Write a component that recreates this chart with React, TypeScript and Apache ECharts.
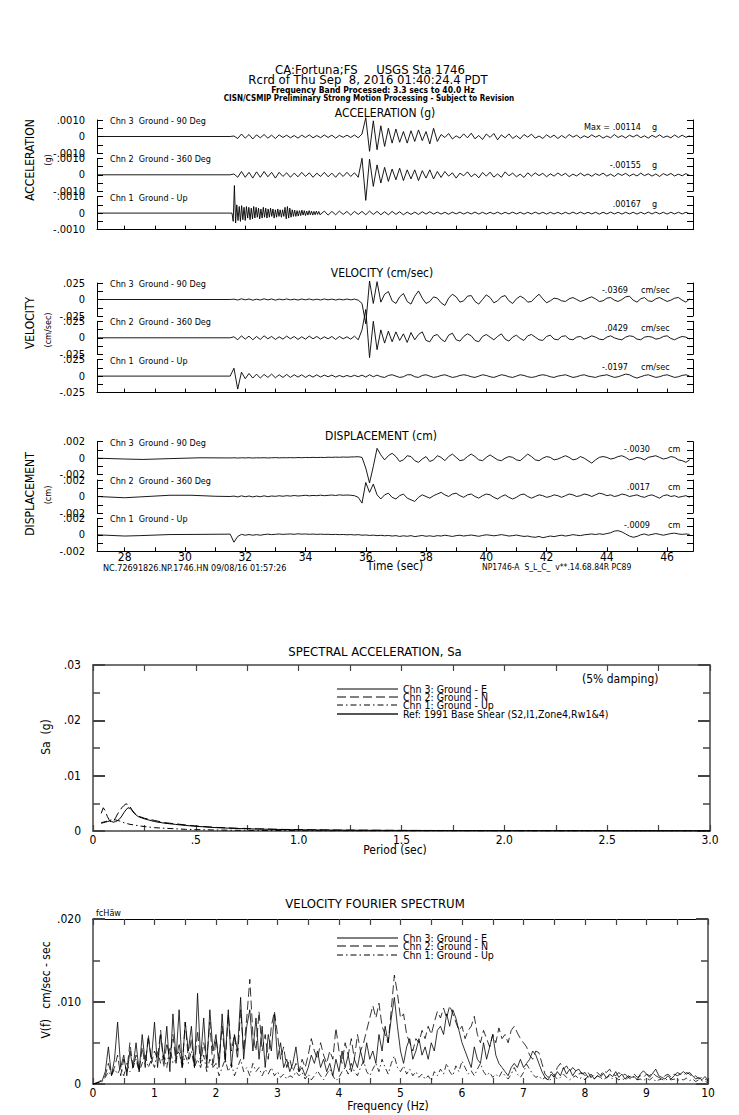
import React, { useEffect, useRef } from 'react';
import * as echarts from 'echarts';

const FONT = "'DejaVu Sans Condensed', 'Liberation Sans Narrow', 'DejaVu Sans', sans-serif";

// ---------- time axis of the record ----------
const TIME_MIN = 27.08;
const TIME_MAX = 46.86;
const timeTicks = [28, 29, 30, 31, 32, 33, 34, 35, 36, 37, 38, 39, 40, 41, 42, 43, 44, 45, 46];
const timeLabels = [28, 30, 32, 34, 36, 38, 40, 42, 44, 46];

// ---------- ACCELERATION (units of 0.0001 g), samples every 0.125 s from 31.5 s ----------
const accChn3Pre = [[27.08, 0]];
const accChn3 = [
  0, 0.3, -1.2, 1.5, -1.0, 1.2, -1.5, 1.0,
  -0.8, 1.2, -1.0, 0.8, -1.2, 1.0, -0.6, 0.8,
  -0.8, 0.6, -1.0, 0.8, -0.6, 1.0, -0.8, 0.6,
  -0.7, 0.9, -0.6, 0.8, -1.0, 0.7, -0.5, 0.8,
  -0.6, 0.9, -0.8, 1.5, 11.4, -9, 9.5, -8,
  6.5, -6, 5, -4, 4.5, -3.5, 3, -4,
  3.5, -3, 4, -2.5, 3, -4.5, 5, -3,
  1.2, -0.6, 1.8, -1.5, 0.4, -1.0, 1.6, -0.8,
  2.0, -1.4, 0.6, -1.8, 1.5, -0.5, 1.8, -2.0,
  1.0, -0.8, 1.6, -1.2, 0.5, -1.4, 1.2, -0.4,
  1.4, -1.0, 0.3, -1.2, 1.0, -0.6, 0.8, -1.2,
  0.6, -0.9, 1.2, -0.4, 0.8, -1.0, 0.4, -0.7,
  1.0, -0.4, 0.7, -1.0, 0.3, -0.8, 1.2, -0.6,
  0.5, -0.9, 0.8, -0.3, 1.0, -0.7, 0.4, -1.0,
  0.7, -0.5, 1.0, -0.6, 0.3, -0.8, 0.9, -0.6,
  0.8, -0.5, 0.4,
];
const accChn2Pre = [[27.08, 0]];
const accChn2 = [
  0, 0.5, -1.5, 2, -1.5, 1.5, -2, 1.8,
  -1.5, 2, -1.2, 1.5, -2, 1.5, -1, 1.2,
  -1.5, 1, -1.2, 1.5, -1, 1.2, -1.5, 1,
  -1, 1.5, -1.2, 1, -1.5, 1.2, -1, 1.5,
  -1, 1.2, -1.5, 10, -15.5, 9.5, -7, 6,
  -5, 4.5, -4, 3.5, -3, 4, -3.5, 3,
  -2.5, 3, -3.5, 2.5, -2, 3, -2.5, 2,
  -1.6, 2.0, -0.8, 1.2, -2.0, 1.0, -0.6, 1.8,
  -1.2, 0.6, -1.8, 1.4, -0.8, 1.6, -1.4, 0.5,
  -1.5, 1.8, -0.6, 1.0, -1.2, 0.4, -1.6, 1.2,
  -0.8, 1.2, -0.5, 0.9, -1.2, 0.6, -0.8, 1.1,
  -0.5, 0.9, -1.1, 0.4, -0.7, 1.0, -0.6, 0.5,
  -0.9, 0.7, -0.4, 1.0, -0.8, 0.4, -1.0, 0.8,
  -0.4, 0.9, -0.8, 0.5, -0.7, 1.0, -0.5, 0.6,
  -0.8, 0.5, -1.0, 0.7, -0.4, 0.8, -0.7, 0.4,
  -0.6, 0.7, -0.4,
];
const accChn1Pre = [[27.08, 0]];
// dense P-wave burst, samples every 0.04 s from 31.56 s
const accChn1Burst = [
  0, -5, 16.7, -6, 5, -4.5, 4, -5, 4.5, -4,
  3.5, -4.5, 4, -3, 3.5, -4, 3, -3.5, 4, -3,
  3.5, -2.5, 3, -3.5, 2.5, -3, 3.5, -2.5, 3, -3,
  2.5, -2.5, 3, -2, 2.5, -3, 2, -2.5, 2.5, -2,
  2, -2.5, 2, -2, 3.5, -3.5, 4, -3, 3, -2.5,
  2, -2, 1.8, -2, 1.5, -1.8, 1.5, -1.5, 1.8, -1.2,
  1.5, -1.5, 1.2, -1.2, 1.5, -1, 1.2, -1.2, 1, -1,
  1.2, -0.8, 1, -1,
];
// samples every 0.125 s from 34.625 s
const accChn1 = [
  1.2, -1.2, 1.0, -1.0, 1.2, -0.8, 1.0,
  -1.2, 1, -0.8, 1, -1, 1.2, -0.8, 1,
  -1, 0.8, -1, 1, -0.8, 0.8, -1, 0.6,
  -0.8, 0.6, -0.8, 0.8, -0.6, 0.8, -0.6, 0.6,
  -0.6, 0.5, -0.7, 0.6, -0.5, 0.6, -0.6, 0.5,
  -0.5, 0.6, -0.6, 0.5, -0.6, 0.5, -0.5, 0.6,
  -0.6, 0.5, -0.5, 0.6, -0.5, 0.5, -0.6, 0.5,
  -0.5, 0.6, -0.5, 0.5, -0.6, 0.5, -0.5, 0.5,
  -0.6, 0.5, -0.5, 0.6, -0.5, 0.6, -0.5, 0.5,
  -0.5, 0.5, -0.6, 0.5, -0.5, 0.6, -0.5, 0.5,
  -0.6, 0.5, -0.5, 0.5, -0.6, 0.5, -0.5, 0.6,
  -0.5, 0.6, -0.5, 0.5, -0.6, 0.5, -0.5, 0.5,
  -0.5, 0.5, -0.4,
];

// ---------- VELOCITY (units of 0.001 cm/sec) ----------
const velChn3Pre = [[27.08, 0]];
const velChn3 = [
  0, 0.5, -0.8, 1, -0.5, 0.8, -1, 0.5,
  -0.8, 1, -0.6, 0.8, -1, 0.6, -0.5, 0.8,
  -0.6, 0.5, -0.8, 0.7, -0.5, 0.8, -0.7, 0.5,
  -0.7, 0.8, -0.5, 0.6, -0.8, 0.5, -0.6, 0.7,
  -0.5, 0.6, -1, -6, -36.9, 28, -6, 27,
  -4, 8, 12, -2, -6, 4, 9, -3,
  -7, 5, 13, 2, -6, -3, 4, 2,
  -5, -9, 2, 8, 4, -4, -2, 5,
  6, -3, -7, 0, 7, 3, -5, -2,
  4, 6, -2, -6, 1, 5, 2, -4,
  -3, 3, 8, 1, -5, -2, 2, 1,
  -2, -3, 1, 3, 0, -3, -1, 2,
  4, 1, -3, -2, 2, 3, -1, -3,
  0, 4, 5, -1, -4, 1, 3, -2,
  -3, 1, 3, 0, -3, -1, 2, 3,
  -1, -4, 1,
];
const velChn2Pre = [[27.08, 0]];
const velChn2 = [
  0, 1.5, -3, 3, -2, 2.5, -3, 2,
  -2.5, 3, -1.5, 2, -2.5, 1.5, -2, 2.5,
  -1.5, 2, -2.5, 1.5, -2, 2.5, -1.5, 2,
  -2, 1.5, -1.5, 2, -2.5, 2, -1.5, 1.5,
  -2, 2.5, -3, 12, 42.9, -30, 25, -18,
  12, -8, 10, -6, 9, -4, 6, -7,
  8, -3, 5, 9, -4, -6, 3, 5,
  -2, -6, 4, 7, -3, -5, 2, 6,
  3, -4, -6, 2, 5, 1, -3, 2,
  6, -2, -5, 1, 4, -1, -4, 3,
  5, 1, -3, -4, 2, 4, -2, -3,
  2, 3, -2, -3, 1, 2, -2, 0,
  3, 1, -2, -3, 1, 3, 0, -2,
  -3, 1, 3, 2, -2, -3, 1, 2,
  1, -2, -1, 2, 3, -1, -3, 0,
  2, 1, -2,
];
const velChn1Pre = [[27.08, 0]];
const velChn1 = [
  0, 12, -19.7, 6, -4, 4, -3, 3,
  -3, 2.5, -2, 3, -2.5, 2, -2, 2.5,
  -2, 2, -1.5, 2, -2, 1.5, -1.5, 2,
  -1.5, 1.5, -1, 1.5, -1.5, 1, -1.2, 1,
  -1, 1.2, -1, 1.5, -1.5, 2, -1, 1.5,
  -1, -2, 1, 2, 0, -2, -1, 2,
  2, -1, -2, 1, 2, 0, -2, -1,
  1, 2, 0, -2, -1, 1, 2, 1,
  -1, -2, 0, 2, 1, -1, -2, 0,
  2, 1, -1, -2, 0, 2, 1, -1,
  -2, -1, 1, 2, 1, -1, -2, 0,
  1, 2, 0, -2, -1, 1, 2, 0,
  -1, -2, 0, 1, 2, 0, -2, -1,
  1, 3, 2, -1, -3, -1, 1, 2,
  0, -2, -1, 1, 2, 0, -2, -1,
  1, 2, 0,
];

// ---------- DISPLACEMENT (units of 0.0001 cm) ----------
const dispChn3Pre = [[27.08, 0], [28, -1], [28.6, -1.5], [29.5, -0.5], [30.5, 0.5]];
const dispChn3 = [
  0.3, 0.5, 0.2, 0.5, 0.3, 0.6, 0.2, 0.5,
  0.4, 0.6, 0.3, 0.5, 0.7, 0.4, 0.6, 0.5,
  0.7, 0.5, 0.8, 0.6, 0.9, 0.7, 1.0, 0.8,
  1.0, 0.8, 1.2, 1.0, 1.3, 1.1, 1.4, 1.2,
  1.5, 1.6, 1.8, 1.0, -12, -30, -10, 12,
  4, -2, 3, 6, 2, -4, -2, 3,
  2, -3, -5, -1, 2, -4, -2, 3,
  1, -3, 2, 5, 1, -3, -2, 2,
  5, 2, -2, -3, 1, 4, 1, -2,
  -3, 0, 2, 1, -2, -3, 1, 5,
  2, -2, -3, 0, 2, 1, -2, -1,
  1, 3, 1, -2, -1, 2, 0, -3,
  -6, -2, 1, 2, 1, -1, 0, 2,
  3, 1, -2, -1, 1, 0, -2, 1,
  2, 3, 1, -1, 0, 2, 1, -2,
  -3, -5, -2,
];
const dispChn2Pre = [[27.08, 0], [28, -1.5], [28.5, -0.5], [29.5, 1.5], [30.2, 1.5], [31, 0.3]];
const dispChn2 = [
  0, 0.5, -0.5, 0.8, -0.3, 0.6, -0.5, 0.5,
  -0.3, 0.8, -0.2, 0.6, 0.2, 0.9, 0.3, 1.0,
  0.5, 1.2, 0.6, 1.0, 1.5, 0.8, 1.3, 1.0,
  1.6, 1.0, 1.4, 1.8, 1.2, 2.0, 1.5, 1.8,
  1.5, 1.0, -1, -8, 17, 5, 15, 2,
  -3, 2, 4, -1, -3, 1, 3, -2,
  -4, -6, -1, 2, 0, -2, 1, 3,
  5, 2, 0, 3, 4, 1, -1, 2,
  3, 0, -2, 1, 3, 2, -1, -3,
  0, 2, -1, -3, -1, 2, 3, 0,
  -2, 0, 2, 1, -1, 0, 2, 1,
  -1, 1, 3, 2, 0, 1, 3, 2,
  0, 2, 4, 3, 1, 2, 0, 1,
  3, 2, 0, 1, 2, 0, -1, 1,
  2, 0, -2, 1, 2, 0, 1, -1,
  0, 1, -1,
];
const dispChn1Pre = [[27.08, 0], [28, -1.5], [28.5, -1], [29.5, 0.3], [30.5, 0.5]];
const dispChn1 = [
  0.8, -9, -2, 0.5, -0.5, 0.3, -0.5, 0.2,
  -0.5, 0.3, 0.8, 0.2, 0.6, 1.0, 0.5, 0.8,
  1.0, 0.6, 1.2, 0.8, 1.0, 0.6, 0.9, 0.5,
  0.8, 0.5, 0.6, 0.3, 0.5, 0.2, 0.4, 0.0,
  0.3, -0.2, 0.2, -0.5, -0.2, -0.8, -0.4, -1.0,
  -0.6, -1.2, -0.8, -1.5, -1.0, -2.0, -1.2, -1.8,
  -1.0, -2.2, -1.5, -0.8, -1.8, -1.2, -2.0, -1.0,
  -1.5, -0.5, -1.2, -2.0, -1.0, -0.5, -1.5, -0.8,
  -0.3, -1.0, -1.8, -0.8, 0.0, -0.5, -1.2, -0.6,
  0.2, -0.6, -1.5, -1.0, -0.3, -1.2, -2.0, -1.5,
  -2.5, -3.0, -2.0, -3.5, -2.5, -1.5, -2.2, -1.2,
  -0.5, -1.5, -0.8, 0.2, -0.5, -1.0, 0.0, 0.5,
  1.0, 0.3, 1.2, 0.5, 1.5, 2.5, 4.5, 5.0,
  3.5, 1.0, -1.5, -3.0, -2.0, 0.0, 1.0, -0.5,
  0.5, 1.5, 0.5, -0.5, 0.5, 1.5, 2.0, 1.0,
  0.5, 1.0, 0.5,
];

// ---------- SPECTRAL ACCELERATION (Sa in units of 0.001 g) ----------
const saPeriod = [0.04, 0.05, 0.06, 0.07, 0.08, 0.09, 0.10, 0.11, 0.12, 0.13, 0.14, 0.15, 0.16, 0.17, 0.18, 0.19, 0.20, 0.22, 0.25, 0.30, 0.35, 0.40, 0.45, 0.50, 0.60, 0.70, 0.80, 0.90, 1.0, 1.2, 1.5, 2.0, 2.5, 3.0];
const saChn3 = [1.4, 1.5, 1.6, 1.7, 1.8, 1.7, 1.6, 1.7, 1.9, 2.2, 2.7, 3.3, 3.8, 4.2, 4.1, 3.7, 3.2, 2.6, 2.2, 1.7, 1.4, 1.2, 1.0, 0.85, 0.6, 0.45, 0.35, 0.28, 0.22, 0.15, 0.1, 0.06, 0.04, 0.03];
const saChn2 = [3.2, 4.2, 3.6, 2.6, 1.9, 1.6, 1.8, 2.4, 3.1, 3.7, 4.2, 4.6, 4.9, 4.8, 4.4, 3.8, 3.3, 2.7, 2.3, 1.9, 1.5, 1.3, 1.1, 0.9, 0.65, 0.5, 0.4, 0.3, 0.25, 0.17, 0.11, 0.07, 0.05, 0.03];
const saChn1 = [1.5, 1.6, 1.7, 1.8, 1.9, 2.0, 2.0, 2.0, 1.9, 1.8, 1.7, 1.5, 1.4, 1.3, 1.2, 1.15, 1.1, 0.95, 0.8, 0.6, 0.5, 0.4, 0.3, 0.25, 0.18, 0.13, 0.1, 0.08, 0.06, 0.04, 0.03, 0.02, 0.015, 0.01];
const saTicksY = [0, 10, 20, 30];
const saTickLabelsY = ['0', '.01', '.02', '.03'];

// ---------- VELOCITY FOURIER SPECTRUM (units of 0.001 cm/sec-sec), every 0.05 Hz from 0 Hz ----------
const FREQ_STEP = 0.05;
const vfsChn3 = [
  0, 0.1, 0.2, 0.4, 1.5, 4.5, 1.0, 3, 7.5, 2, 3.5, 1, 4, 2, 5, 1.5, 6, 2.5, 5.5, 3,
  7.5, 2, 6, 3, 7, 1.5, 8.5, 3, 9, 2, 7.5, 4, 7, 2, 11, 3, 8, 2, 9, 4,
  6, 2, 8.5, 3, 9, 2, 6, 4, 10.5, 3, 7, 9, 4, 8, 3, 7, 2, 6, 4, 8.5,
  3, 5, 2, 3, 1.5, 2.5, 4.5, 1.5, 2, 1, 2, 3.5, 2.5, 4, 2, 3, 1.5, 2.5, 1, 3,
  1.5, 4, 2, 3.5, 1.5, 3, 2, 4, 2.5, 5, 3, 4, 2.5, 6, 4, 7, 5, 8, 10.5, 7,
  4, 2.5, 4.5, 5.5, 3, 4, 5.5, 3.5, 4.5, 3, 5, 4, 6.5, 7, 6, 8.5, 7, 9, 8, 6.5,
  5, 4, 3, 2, 4.5, 3, 2.5, 5, 3, 4.5, 6, 3.5, 2.5, 2, 1.5, 1, 2, 2.5, 2, 3,
  2, 2.5, 3, 4, 3.5, 2.5, 1.5, 0.8, 0.5, 1.2, 0.8, 1.5, 1, 2, 1.2, 1.8, 1, 1.6, 1.8, 1.2,
  1.4, 0.8, 1.2, 0.6, 1, 0.8, 1.3, 0.7, 1.2, 0.9, 1.5, 0.8, 1.2, 0.6, 1, 0.8, 0.9, 0.5, 1.2, 1.6,
  1.2, 0.8, 1.3, 1.8, 1, 0.8, 0.6, 1, 0.6, 1, 1.4, 1.2, 1.5, 1.2, 1.4, 1, 0.6, 0.8, 0.5, 0.9,
  0.5,
];
const vfsChn2 = [
  0, 0.1, 0.3, 0.5, 1, 2.5, 1.2, 2, 3.5, 1, 3, 1.5, 5, 2, 3.5, 1.5, 4.5, 2, 6, 2.5,
  4, 3, 6.5, 2, 5, 3, 6, 2.5, 5, 2, 7.5, 3, 5.5, 2, 6.5, 2.5, 5, 3, 7.5, 2,
  5.5, 3, 7, 2.5, 8.5, 4, 6, 3, 9, 4, 8, 12.7, 6, 4, 8.8, 4, 6, 3, 7, 8.8,
  6, 3, 4.5, 2, 3, 1.5, 2.5, 1.5, 3, 2, 3.5, 5.5, 4, 3, 5, 3.5, 2.5, 4, 3, 6.8,
  4, 2.5, 5, 3.5, 5.5, 3, 6, 4, 5, 6.5, 8, 9.5, 8, 9.8, 7, 6, 5, 9, 13.2, 11,
  8, 8.5, 6, 5, 4, 5.5, 5, 6.5, 5.5, 7, 6, 7.5, 8.8, 8, 9.2, 8, 9.5, 8.5, 7.5, 6.5,
  7, 5.5, 6.5, 7, 8.2, 6, 5, 6.5, 5.5, 4.5, 6, 5, 6.8, 5.5, 6, 5, 6.5, 7, 6.2, 5.5,
  5, 4.5, 3.5, 3, 4, 3.8, 2.5, 1.2, 0.8, 1.5, 1, 2, 2.5, 1.8, 2.2, 1.5, 2, 1.6, 1.2, 1.4,
  1, 1.4, 0.8, 1.2, 1.4, 1, 1.6, 1.4, 1.8, 1.2, 1, 1.4, 1, 1.2, 0.8, 1, 1.2, 0.8, 1, 0.8,
  1.2, 1, 1.4, 1, 0.8, 0.6, 1, 1.2, 0.8, 1.2, 1, 1.2, 1, 1.4, 1.2, 0.8, 1, 0.6, 0.8, 0.6,
  0.4,
];
const vfsChn1 = [
  0, 0.1, 0.2, 0.3, 0.8, 1.5, 1, 1.8, 1.2, 2, 1, 2.5, 1.5, 2, 3, 1.5, 2.5, 3.5, 2, 3,
  2, 4, 2.5, 3.5, 2, 4.5, 2.5, 3, 4, 2, 3.5, 2.5, 4, 2, 3, 2, 3.5, 1.5, 3, 2,
  2.5, 1, 2, 3, 1.5, 2.5, 1, 2, 3, 1.5, 2, 1, 2.5, 1.5, 2, 1, 1.8, 1.2, 2, 1,
  1.5, 0.8, 1.2, 0.6, 1, 0.8, 1.5, 1, 1.4, 0.6, 1.2, 0.5, 1, 1.6, 1, 0.5, 1.2, 1.8, 1, 0.4,
  0.8, 1.5, 2, 1.2, 2.5, 1.5, 1, 2, 2.8, 1.5, 1, 1.8, 2.5, 1.5, 3, 2, 1.2, 2.5, 3.4, 2,
  1.5, 2.2, 1.2, 1.8, 1, 1.5, 0.8, 1.2, 0.6, 1, 0.4, 1.5, 1, 1.8, 1.2, 2.5, 1.5, 1, 2.2, 1.5,
  2.8, 2, 1.2, 1.6, 1, 1.8, 2.5, 1.5, 1, 1.4, 0.8, 1.2, 0.8, 1.5, 1, 0.6, 1.2, 2, 1.2, 0.8,
  1.4, 2.4, 1.8, 1.2, 0.8, 1, 0.5, 0.8, 0.4, 0.6, 1, 0.6, 0.8, 1.2, 0.8, 0.5, 0.8, 1, 0.6, 0.8,
  0.5, 1, 0.8, 0.6, 1, 0.8, 0.5, 0.8, 1, 0.6, 0.8, 0.5, 0.7, 0.4, 0.8, 0.6, 0.9, 0.5, 0.6, 0.4,
  0.7, 0.5, 0.8, 0.3, 0.5, 0.6, 0.4, 0.7, 0.5, 0.6, 0.4, 0.6, 0.5, 0.7, 0.4, 0.6, 0.3, 0.5, 0.4, 0.3,
  0.2,
];
const vfsTickLabelsY = ['0', '.010', '.020'];

// ---------- panel descriptions ----------
const groupTops = [120, 283, 441.7];
const PANEL_STEP = 38.3;
const PANEL_H = 33;
const groupRange = [10, 25, 20];
const groupTickLabels = [
  ['-.0010', '0', '.0010'],
  ['-.025', '0', '.025'],
  ['-.002', '0', '.002'],
];
const groupTitles = ['ACCELERATION (g)', 'VELOCITY (cm/sec)', 'DISPLACEMENT (cm)'];
const groupNames = ['ACCELERATION', 'VELOCITY', 'DISPLACEMENT'];
const groupUnits = ['(g)', '(cm/sec)', '(cm)'];
const chanLabels = ['Chn 3  Ground - 90 Deg', 'Chn 2  Ground - 360 Deg', 'Chn 1  Ground - Up'];
const peakValues = [
  ['.00114', '-.00155', '.00167'],
  ['-.0369', '.0429', '-.0197'],
  ['-.0030', '.0017', '-.0009'],
];
const peakUnits = ['g', 'cm/sec', 'cm'];

// each trace: explicit leading points, then sampled segments [start time, step, values]
const traces: any[][] = [
  [
    { pre: accChn3Pre, segs: [[31.5, 0.125, accChn3]] },
    { pre: accChn2Pre, segs: [[31.5, 0.125, accChn2]] },
    { pre: accChn1Pre, segs: [[31.56, 0.04, accChn1Burst], [34.625, 0.125, accChn1]] },
  ],
  [
    { pre: velChn3Pre, segs: [[31.5, 0.125, velChn3]] },
    { pre: velChn2Pre, segs: [[31.5, 0.125, velChn2]] },
    { pre: velChn1Pre, segs: [[31.5, 0.125, velChn1]] },
  ],
  [
    { pre: dispChn3Pre, segs: [[31.5, 0.125, dispChn3]] },
    { pre: dispChn2Pre, segs: [[31.5, 0.125, dispChn2]] },
    { pre: dispChn1Pre, segs: [[31.5, 0.125, dispChn1]] },
  ],
];

// layout of the free texts
const nameCenters = [160, 323, 494];
const unitCenters = [160, 330, 495];
const valueRight = [641, 628, 650];
const unitLeft = [652, 641, 668];

const nb = (s: string) => s.replace(/ /g, '\u00a0');

function txt(x: number, y: number, text: string, size: number, align = 'left', extra: any = {}) {
  return {
    type: 'text',
    x,
    y,
    rotation: extra.rotation || 0,
    silent: true,
    style: {
      text: nb(text),
      fill: '#000',
      fontSize: size,
      fontFamily: FONT,
      fontWeight: extra.bold ? 'bold' : 'normal',
      align,
      textAlign: align,
      verticalAlign: 'middle',
      textVerticalAlign: 'middle',
    },
  };
}

function hline(x1: number, x2: number, y: number, dash: any, color = '#000', width = 1) {
  return {
    type: 'line',
    silent: true,
    shape: { x1, y1: y, x2, y2: y },
    style: { stroke: color, lineWidth: width, lineDash: dash },
  };
}

function buildOption() {
  const grid: any[] = [];
  const xAxis: any[] = [];
  const yAxis: any[] = [];
  const series: any[] = [];
  const graphic: any[] = [];

  for (let g = 0; g < 3; g++) {
    const R = groupRange[g];
    for (let r = 0; r < 3; r++) {
      const idx = g * 3 + r;
      const top = groupTops[g] + r * PANEL_STEP;
      const isBottom = r === 2;
      grid.push({ left: 97, top, width: 596, height: PANEL_H, outerBoundsMode: 'none', containLabel: false });
      xAxis.push({
        type: 'value', gridIndex: idx, min: TIME_MIN, max: TIME_MAX,
        axisLine: { show: isBottom, onZero: false, lineStyle: { color: '#000', width: 1 } },
        axisTick: { show: isBottom, inside: true, length: 4, customValues: timeTicks, lineStyle: { color: '#000', width: 1 } },
        axisLabel: {
          show: isBottom && g === 2, customValues: timeLabels, color: '#000', fontSize: 12,
          fontFamily: FONT, margin: 0, formatter: (v: number) => String(Math.round(v)),
        },
        splitLine: { show: false },
      });
      const labels = groupTickLabels[g];
      yAxis.push({
        type: 'value', gridIndex: idx, min: -R, max: R, interval: R / 2, position: 'left',
        axisLine: { show: true, onZero: false, lineStyle: { color: '#000', width: 1 } },
        axisTick: { show: true, inside: true, length: 6, lineStyle: { color: '#000', width: 1 } },
        axisLabel: {
          show: true, customValues: [-R, 0, R], color: '#000', fontSize: 11, fontFamily: FONT, margin: 12,
          formatter: (v: number) => (v < 0 ? labels[0] : v > 0 ? labels[2] : labels[1]),
        },
        splitLine: { show: false },
      });
      yAxis.push({
        type: 'value', gridIndex: idx, min: -R, max: R, interval: R / 2, position: 'right',
        axisLine: { show: true, onZero: false, lineStyle: { color: '#000', width: 1 } },
        axisTick: { show: true, inside: true, length: 6, lineStyle: { color: '#000', width: 1 } },
        axisLabel: { show: false },
        splitLine: { show: false },
      });
      const tr = traces[g][r];
      let data: number[][] = (tr.pre as number[][]).slice();
      for (const [start, dt, vals] of tr.segs) {
        data = data.concat((vals as number[]).map((v, i) => [start + i * dt, v]));
      }
      series.push({
        type: 'line', xAxisIndex: idx, yAxisIndex: idx * 2, data, showSymbol: false, symbol: 'none',
        clip: false, silent: true, lineStyle: { color: '#000', width: 0.9 },
      });

      graphic.push(txt(110, top + 1, chanLabels[r], 9));
      graphic.push(txt(valueRight[g], top + 7, peakValues[g][r], 9, 'right'));
      graphic.push(txt(unitLeft[g], top + 7, peakUnits[g], 9));
      if (g === 0 && r === 0) graphic.push(txt(584, top + 7, 'Max =', 9));
    }
    graphic.push(txt(30, nameCenters[g], groupNames[g], 12, 'center', { rotation: Math.PI / 2 }));
    graphic.push(txt(48, unitCenters[g], groupUnits[g], 9, 'center', { rotation: Math.PI / 2 }));
  }

  // ---------- spectral acceleration ----------
  const saGrid = grid.length;
  grid.push({ left: 93, top: 665, width: 617, height: 166, outerBoundsMode: 'none', containLabel: false });
  const frame = '#444';
  const saX = xAxis.length;
  xAxis.push({
    type: 'value', gridIndex: saGrid, min: 0, max: 3, interval: 0.25, position: 'bottom',
    axisLine: { show: true, onZero: false, lineStyle: { color: frame, width: 1.5 } },
    axisTick: { show: true, inside: true, length: 6, lineStyle: { color: frame, width: 1.2 } },
    axisLabel: {
      show: true, customValues: [0, 0.5, 1, 1.5, 2, 2.5, 3], color: '#000', fontSize: 12, fontFamily: FONT, margin: 3,
      formatter: (v: number) => (v === 0 ? '0' : v === 0.5 ? '.5' : v.toFixed(1)),
    },
    splitLine: { show: false },
  });
  xAxis.push({
    type: 'value', gridIndex: saGrid, min: 0, max: 3, interval: 0.25, position: 'top',
    axisLine: { show: true, onZero: false, lineStyle: { color: frame, width: 1.5 } },
    axisTick: { show: true, inside: true, length: 6, lineStyle: { color: frame, width: 1.2 } },
    axisLabel: { show: false }, splitLine: { show: false },
  });
  const saY = yAxis.length;
  for (const pos of ['left', 'right']) {
    yAxis.push({
      type: 'value', gridIndex: saGrid, min: 0, max: 30, interval: 10, position: pos,
      axisLine: { show: true, onZero: false, lineStyle: { color: frame, width: 1.5 } },
      axisTick: { show: true, inside: true, length: 12, lineStyle: { color: frame, width: 2 } },
      minorTick: { show: true, splitNumber: 2, length: 7, lineStyle: { color: frame, width: 1.5 } },
      axisLabel: {
        show: pos === 'left', color: '#000', fontSize: 12, fontFamily: FONT, margin: 12,
        formatter: (v: number) => saTickLabelsY[saTicksY.indexOf(v)] ?? '',
      },
      splitLine: { show: false },
    });
  }
  const saSeries = [
    { vals: saChn3, dash: 'solid' },
    { vals: saChn2, dash: [9, 4] },
    { vals: saChn1, dash: [6, 3, 1.5, 3] },
  ];
  saSeries.forEach((s) => {
    series.push({
      type: 'line', xAxisIndex: saX, yAxisIndex: saY, showSymbol: false, symbol: 'none', silent: true,
      data: saPeriod.map((p, i) => [p, s.vals[i]]),
      lineStyle: { color: '#000', width: 1, type: s.dash },
    });
  });

  // ---------- velocity Fourier spectrum ----------
  const vfsGrid = grid.length;
  grid.push({ left: 93, top: 919, width: 615, height: 165, outerBoundsMode: 'none', containLabel: false });
  const vfsX = xAxis.length;
  xAxis.push({
    type: 'value', gridIndex: vfsGrid, min: 0, max: 10, interval: 0.5, position: 'bottom',
    axisLine: { show: true, onZero: false, lineStyle: { color: frame, width: 1.5 } },
    axisTick: { show: true, inside: true, length: 6, lineStyle: { color: frame, width: 1.2 } },
    axisLabel: {
      show: true, customValues: [0, 1, 2, 3, 4, 5, 6, 7, 8, 9, 10], color: '#000', fontSize: 12, fontFamily: FONT, margin: 3,
      formatter: (v: number) => String(Math.round(v)),
    },
    splitLine: { show: false },
  });
  xAxis.push({
    type: 'value', gridIndex: vfsGrid, min: 0, max: 10, interval: 0.5, position: 'top',
    axisLine: { show: true, onZero: false, lineStyle: { color: '#000', width: 1.2 } },
    axisTick: { show: true, inside: true, length: 6, lineStyle: { color: frame, width: 1.2 } },
    axisLabel: { show: false }, splitLine: { show: false },
  });
  const vfsY = yAxis.length;
  for (const pos of ['left', 'right']) {
    yAxis.push({
      type: 'value', gridIndex: vfsGrid, min: 0, max: 20, interval: 10, position: pos,
      axisLine: { show: true, onZero: false, lineStyle: { color: frame, width: 1.5 } },
      axisTick: { show: true, inside: true, length: 12, lineStyle: { color: frame, width: 2 } },
      minorTick: { show: true, splitNumber: 2, length: 7, lineStyle: { color: frame, width: 1.5 } },
      axisLabel: {
        show: pos === 'left', color: '#000', fontSize: 12, fontFamily: FONT, margin: 12,
        formatter: (v: number) => vfsTickLabelsY[Math.round(v / 10)] ?? '',
      },
      splitLine: { show: false },
    });
  }
  const vfsSeries = [
    { vals: vfsChn1, dash: [6, 3, 1.5, 3] },
    { vals: vfsChn2, dash: [9, 4] },
    { vals: vfsChn3, dash: 'solid' },
  ];
  vfsSeries.forEach((s) => {
    series.push({
      type: 'line', xAxisIndex: vfsX, yAxisIndex: vfsY, showSymbol: false, symbol: 'none', silent: true,
      data: s.vals.map((v, i) => [i * FREQ_STEP, v]),
      lineStyle: { color: '#000', width: 0.8, type: s.dash },
    });
  });

  // ---------- header & free texts ----------
  graphic.push(txt(370, 69, 'CA:Fortuna;FS     USGS Sta 1746', 13, 'center'));
  graphic.push(txt(368, 79, 'Rcrd of Thu Sep  8, 2016 01:40:24.4 PDT', 13, 'center'));
  graphic.push(txt(373, 90, 'Frequency Band Processed: 3.3 secs to 40.0 Hz', 8.5, 'center', { bold: true }));
  graphic.push(txt(369, 98, 'CISN/CSMIP Preliminary Strong Motion Processing - Subject to Revision', 8, 'center', { bold: true }));
  graphic.push(txt(385, 113, groupTitles[0], 12, 'center'));
  graphic.push(txt(382, 273, groupTitles[1], 12, 'center'));
  graphic.push(txt(381, 436, groupTitles[2], 12, 'center'));
  graphic.push(txt(103, 568, 'NC.72691826.NP.1746.HN 09/08/16 01:57:26', 9));
  graphic.push(txt(395, 566, 'Time (sec)', 12, 'center'));
  graphic.push(txt(482, 567, 'NP1746-A  S_L_C_  v**.14.68.84R PC89', 8.5));

  graphic.push(txt(375, 651, 'SPECTRAL ACCELERATION, Sa', 13, 'center'));
  graphic.push(txt(582, 679, '(5% damping)', 12));
  graphic.push(hline(337, 398, 689, null));
  graphic.push(hline(337, 398, 697, [9, 4]));
  graphic.push(hline(337, 398, 705, [6, 3, 1.5, 3]));
  graphic.push(hline(337, 398, 714, null, '#555', 2));
  graphic.push(txt(403, 689, 'Chn 3: Ground - E', 10.5));
  graphic.push(txt(403, 697, 'Chn 2: Ground - N', 10.5));
  graphic.push(txt(403, 705, 'Chn 1: Ground - Up', 10.5));
  graphic.push(txt(403, 714, 'Ref: 1991 Base Shear (S2,I1,Zone4,Rw1&4)', 10.5));
  graphic.push(txt(46, 737, 'Sa  (g)', 12, 'center', { rotation: Math.PI / 2 }));
  graphic.push(txt(395, 850, 'Period (sec)', 12, 'center'));

  graphic.push(txt(375, 903, 'VELOCITY FOURIER SPECTRUM', 13, 'center'));
  graphic.push(txt(96, 913, 'fcHäw', 9));
  graphic.push(hline(337, 398, 938, null));
  graphic.push(hline(337, 398, 946, [9, 4]));
  graphic.push(hline(337, 398, 955, [6, 3, 1.5, 3]));
  graphic.push(txt(403, 938, 'Chn 3: Ground - E', 10.5));
  graphic.push(txt(403, 946, 'Chn 2: Ground - N', 10.5));
  graphic.push(txt(403, 955, 'Chn 1: Ground - Up', 10.5));
  graphic.push(txt(46, 990, 'V(f)   cm/sec - sec', 12, 'center', { rotation: Math.PI / 2 }));
  graphic.push(txt(388, 1106, 'Frequency (Hz)', 12, 'center'));

  return {
    animation: false,
    backgroundColor: '#ffffff',
    textStyle: { fontFamily: FONT },
    grid, xAxis, yAxis, series, graphic,
  };
}

export default function App() {
  const ref = useRef<HTMLDivElement>(null);
  useEffect(() => {
    if (!ref.current) return;
    const chart = echarts.init(ref.current, undefined, { renderer: 'svg' });
    chart.setOption(buildOption() as any);
    return () => chart.dispose();
  }, []);
  return (
    <div
      ref={ref}
      style={{ position: 'absolute', left: 0, top: 0, width: 739, height: 1115, background: '#fff' }}
    />
  );
}
